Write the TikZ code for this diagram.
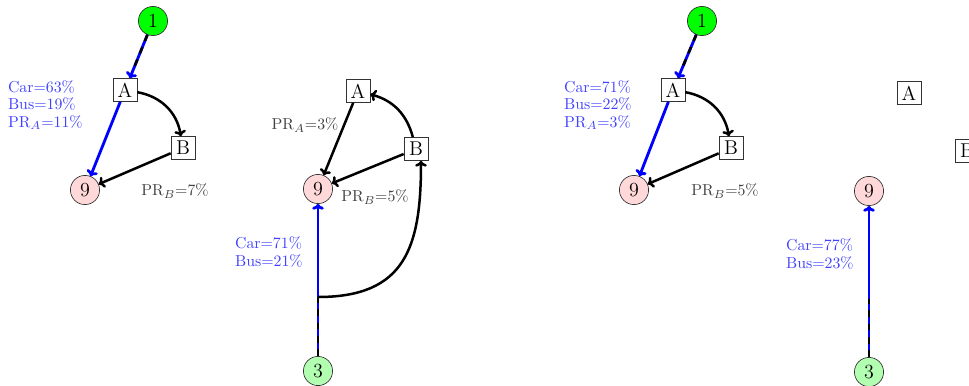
\documentclass[tikz,border=0pt]{standalone}
\usetikzlibrary{arrows.meta}
\begin{document}
\begin{tikzpicture}[x=0.6pt,y=-0.6pt,
  boxnode/.style={draw=black!80,thin,rectangle,inner sep=1pt,minimum width=14.4pt,minimum height=13.8pt,font=\large},
  circnode/.style={draw=black!80,thin,circle,inner sep=0pt,minimum size=17.5pt,font=\large},
  srcnode/.style={circnode,fill=green},
  srcnodelight/.style={circnode,fill=green!30},
  dstnode/.style={circnode,fill=red!15},
  bluelbl/.style={text=blue!75,align=left,font=\fontsize{9.5}{10.5}\selectfont,inner sep=0pt},
  blacklbl/.style={text=black!75,font=\fontsize{9.5}{10.5}\selectfont,inner sep=0pt},
  blueedge/.style={draw=blue,line width=1.7pt},
  blackedge/.style={draw=black,line width=1.5pt},
  dashover/.style={draw=black,line width=1.5pt,dash pattern=on 4pt off 4pt},
  tip/.style={-{To[length=3.5pt,width=7pt]}}
]
\useasboundingbox (0,0) rectangle (969,385);

% ---------- diagram 1 ----------
\node[srcnode] (n1a) at (153,21) {1};
\node[boxnode] (Aa) at (125,90) {A};
\node[boxnode] (Ba) at (183,148) {B};
\node[dstnode] (n9a) at (85,190) {9};
\node[bluelbl,anchor=east] (la1) at (83,105) {Car=63\%\\Bus=19\%\\PR$_A$=11\%};
\node[blacklbl] (la2) at (175,191) {PR$_B$=7\%};
\draw[blueedge,tip] (n1a) -- (Aa);
\draw[dashover,shorten >=8pt] (n1a) -- (Aa);
\draw[blueedge,tip] (Aa) -- (n9a);
\draw[blackedge,tip] (Aa) to[bend left=35] (Ba);
\draw[blackedge,tip] (Ba) -- (n9a);

% ---------- diagram 2 ----------
\node[boxnode] (Ab) at (358,91) {A};
\node[boxnode] (Bb) at (416,149) {B};
\node[dstnode] (n9b) at (318,189) {9};
\node[srcnodelight] (n3b) at (318,371) {3};
\coordinate (jb) at (318,297);
\node[blacklbl] (lb1) at (305,125) {PR$_A$=3\%};
\node[blacklbl] (lb2) at (375,197) {PR$_B$=5\%};
\node[bluelbl,anchor=east] (lb3) at (303,252) {Car=71\%\\Bus=21\%};
\draw[blueedge] (n3b) -- (jb);
\draw[dashover] (n3b) -- (jb);
\draw[blueedge,tip] (jb) -- (n9b);
\draw[blackedge,tip] (jb) to[out=0,in=-90,looseness=1.3] ([xshift=3pt]Bb.south);
\draw[blackedge,tip] (Ab) -- (n9b);
\draw[blackedge,tip] (Bb) -- (n9b);
\draw[blackedge,tip] (Bb) to[bend right=30] (Ab);

% ---------- diagram 3 ----------
\node[srcnode] (n1c) at (702,21) {1};
\node[boxnode] (Ac) at (673,90) {A};
\node[boxnode] (Bc) at (731,148) {B};
\node[dstnode] (n9c) at (634,190) {9};
\node[bluelbl,anchor=east] (lc1) at (632,105) {Car=71\%\\Bus=22\%\\PR$_A$=3\%};
\node[blacklbl] (lc2) at (725,191) {PR$_B$=5\%};
\draw[blueedge,tip] (n1c) -- (Ac);
\draw[dashover,shorten >=8pt] (n1c) -- (Ac);
\draw[blueedge,tip] (Ac) -- (n9c);
\draw[blackedge,tip] (Ac) to[bend left=35] (Bc);
\draw[blackedge,tip] (Bc) -- (n9c);

% ---------- diagram 4 ----------
\node[boxnode] (Ad) at (909,93) {A};
\node[boxnode] (Bd) at (967,151) {B};
\node[dstnode] (n9d) at (869,191) {9};
\node[srcnodelight] (n3d) at (869,372) {3};
\coordinate (jd) at (869,299);
\node[bluelbl,anchor=east] (ld1) at (854,254) {Car=77\%\\Bus=23\%};
\draw[blueedge] (n3d) -- (jd);
\draw[dashover] (n3d) -- (jd);
\draw[blueedge,tip] (jd) -- (n9d);
\end{tikzpicture}
\end{document}
